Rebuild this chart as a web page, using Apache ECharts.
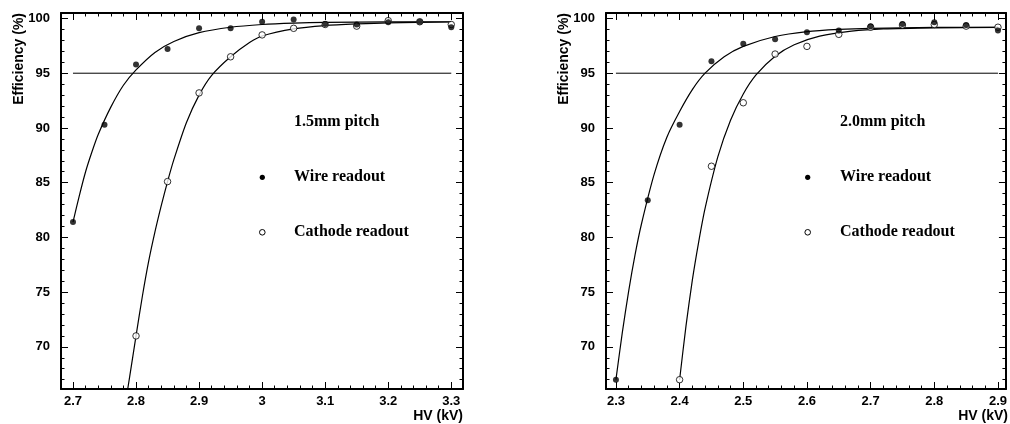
<!DOCTYPE html>
<html>
<head>
<meta charset="utf-8">
<script src="https://cdn.jsdelivr.net/npm/echarts@6/dist/echarts.min.js"></script>
<style>html,body{margin:0;padding:0;background:#fff}#c{width:1010px;height:424px}</style>
</head>
<body>
<div id="c"></div>
<script>
// ---- Data: 1.5 mm pitch (left) ----
var hvL = [2.70, 2.75, 2.80, 2.85, 2.90, 2.95, 3.00, 3.05, 3.10, 3.15, 3.20, 3.25, 3.30];
var wireL = [81.4, 90.3, 95.8, 97.2, 99.1, 99.1, 99.7, 99.9, 99.5, 99.45, 99.65, 99.7, 99.2];
var cathL = [null, null, 71.0, 85.1, 93.2, 96.5, 98.5, 99.1, 99.45, 99.3, 99.8, 99.7, 99.45];
var fitWireLx = [2.70, 2.71, 2.72, 2.73, 2.74, 2.76, 2.78, 2.80, 2.83, 2.86, 2.90, 2.95, 3.00, 3.05, 3.10, 3.20, 3.30];
var fitWireLy = [81.4, 83.8, 86.0, 87.8, 89.4, 91.9, 93.9, 95.3, 96.9, 97.9, 98.7, 99.2, 99.45, 99.58, 99.65, 99.69, 99.7];
var fitCathLx = [2.785, 2.79, 2.80, 2.81, 2.82, 2.83, 2.84, 2.85, 2.86, 2.88, 2.90, 2.92, 2.95, 2.98, 3.00, 3.05, 3.10, 3.15, 3.20, 3.30];
var fitCathLy = [65.5, 67.3, 71.0, 74.6, 77.8, 80.5, 82.9, 85.1, 87.1, 90.5, 93.0, 94.8, 96.5, 97.8, 98.4, 99.05, 99.35, 99.5, 99.6, 99.68];

// ---- Data: 2.0 mm pitch (right) ----
var hvR = [2.30, 2.35, 2.40, 2.45, 2.50, 2.55, 2.60, 2.65, 2.70, 2.75, 2.80, 2.85, 2.90];
var wireR = [67.0, 83.4, 90.3, 96.1, 97.7, 98.1, 98.75, 98.9, 99.3, 99.5, 99.65, 99.4, 98.9];
var cathR = [null, null, 67.0, 86.5, 92.3, 96.75, 97.45, 98.55, 99.2, 99.4, 99.45, 99.3, 99.2];
var fitWireRx = [2.30, 2.31, 2.32, 2.33, 2.34, 2.36, 2.38, 2.40, 2.42, 2.44, 2.47, 2.50, 2.55, 2.60, 2.65, 2.70, 2.80, 2.90];
var fitWireRy = [67.0, 71.3, 75.1, 78.4, 81.2, 85.75, 89.15, 91.5, 93.5, 95.0, 96.5, 97.45, 98.35, 98.8, 99.0, 99.1, 99.18, 99.2];
var fitCathRx = [2.40, 2.41, 2.42, 2.43, 2.44, 2.46, 2.48, 2.50, 2.52, 2.55, 2.58, 2.62, 2.67, 2.72, 2.80, 2.90];
var fitCathRy = [67.0, 71.9, 76.1, 79.6, 82.65, 87.35, 90.7, 93.1, 94.84, 96.55, 97.6, 98.38, 98.84, 99.05, 99.15, 99.19];

var refLevel = 95;
var xRangeL = [2.681, 3.3186];
var xRangeR = [2.2844, 2.9125];
var yRange = [66.15, 100.5];
var pitchL = '1.5mm pitch', pitchR = '2.0mm pitch';
var wireLabel = 'Wire readout', cathLabel = 'Cathode readout';
var xName = 'HV (kV)', yName = 'Efficiency (%)';

function pairs(xs, ys) {
  var out = [];
  for (var i = 0; i < xs.length; i++) if (ys[i] != null) out.push([xs[i], ys[i]]);
  return out;
}

var chart = echarts.init(document.getElementById('c'), null, {renderer: 'canvas'});

var labelFont = {fontFamily: 'Liberation Sans', fontWeight: 'bold', fontSize: 13, color: '#000'};
function axisCommon(showLabel, margin) {
  return {
    axisLine: {show: true, onZero: false, lineStyle: {color: '#000', width: 2}},
    axisTick: {show: true, inside: true, length: 7, lineStyle: {color: '#000', width: 1}},
    minorTick: {show: true, splitNumber: 5, length: 3.5, lineStyle: {color: '#000', width: 1}},
    splitLine: {show: false},
    axisLabel: Object.assign({show: showLabel, margin: margin, showMinLabel: false, showMaxLabel: false}, labelFont)
  };
}
function xAx(grid, range, pos, showLabel) {
  return Object.assign({type: 'value', gridIndex: grid, position: pos, min: range[0], max: range[1],
    minInterval: 0.1, maxInterval: 0.1}, axisCommon(showLabel, 6));
}
function yAx(grid, pos, showLabel) {
  return Object.assign({type: 'value', gridIndex: grid, position: pos, min: yRange[0], max: yRange[1],
    minInterval: 5, maxInterval: 5}, axisCommon(showLabel, 11));
}

var series = [];
function addPanel(xi, yi, hv, wire, cath, fwx, fwy, fcx, fcy) {
  series.push({type: 'line', xAxisIndex: xi, yAxisIndex: yi, data: [[hv[0], refLevel], [hv[hv.length - 1], refLevel]],
    showSymbol: false, lineStyle: {color: '#000', width: 1}, silent: true, z: 2});
  series.push({type: 'line', xAxisIndex: xi, yAxisIndex: yi, data: pairs(fwx, fwy), smooth: 0.25,
    showSymbol: false, lineStyle: {color: '#000', width: 1.2}, silent: true, z: 3});
  series.push({type: 'line', xAxisIndex: xi, yAxisIndex: yi, data: pairs(fcx, fcy), smooth: 0.25,
    showSymbol: false, lineStyle: {color: '#000', width: 1.2}, silent: true, z: 3});
  series.push({type: 'scatter', xAxisIndex: xi, yAxisIndex: yi, data: pairs(hv, cath), symbol: 'circle', symbolSize: 6.5,
    itemStyle: {color: '#fff', borderColor: '#000', borderWidth: 1}, z: 4});
  series.push({type: 'scatter', xAxisIndex: xi, yAxisIndex: yi, data: pairs(hv, wire), symbol: 'circle', symbolSize: 6,
    itemStyle: {color: '#000'}, z: 5});
}
addPanel(0, 0, hvL, wireL, cathL, fitWireLx, fitWireLy, fitCathLx, fitCathLy);
addPanel(2, 2, hvR, wireR, cathR, fitWireRx, fitWireRy, fitCathRx, fitCathRy);

var serifBold = 'bold 16px "Liberation Serif"';
var sansBold = 'bold 14px "Liberation Sans"';
function panelGraphics(gx, textX, markX, pitch) {
  return [
    {type: 'text', x: textX, y: 122, style: {text: pitch, font: serifBold, fill: '#000', verticalAlign: 'middle'}},
    {type: 'text', x: textX, y: 177, style: {text: wireLabel, font: serifBold, fill: '#000', verticalAlign: 'middle'}},
    {type: 'text', x: textX, y: 232, style: {text: cathLabel, font: serifBold, fill: '#000', verticalAlign: 'middle'}},
    {type: 'circle', shape: {cx: markX, cy: 177.3, r: 2.6}, style: {fill: '#000'}},
    {type: 'circle', shape: {cx: markX, cy: 232.3, r: 2.8}, style: {fill: '#fff', stroke: '#000', lineWidth: 1}},
    {type: 'text', x: gx.left - 42, y: 13, rotation: Math.PI / 2,
      style: {text: yName, font: sansBold, fill: '#000', align: 'right', verticalAlign: 'middle'}},
    {type: 'text', x: gx.left + gx.width, y: 416, style: {text: xName, font: sansBold, fill: '#000', align: 'right', verticalAlign: 'middle'}}
  ];
}
var gL = {left: 61, top: 13, width: 402, height: 376};
var gR = {left: 606, top: 13, width: 402, height: 376};

chart.setOption({
  animation: false,
  backgroundColor: '#fff',
  grid: [gL, gR],
  xAxis: [xAx(0, xRangeL, 'bottom', true), xAx(0, xRangeL, 'top', false),
          xAx(1, xRangeR, 'bottom', true), xAx(1, xRangeR, 'top', false)],
  yAxis: [yAx(0, 'left', true), yAx(0, 'right', false),
          yAx(1, 'left', true), yAx(1, 'right', false)],
  series: series,
  graphic: panelGraphics(gL, 294, 262.3, pitchL).concat(panelGraphics(gR, 840, 807.7, pitchR))
});
</script>
</body>
</html>
